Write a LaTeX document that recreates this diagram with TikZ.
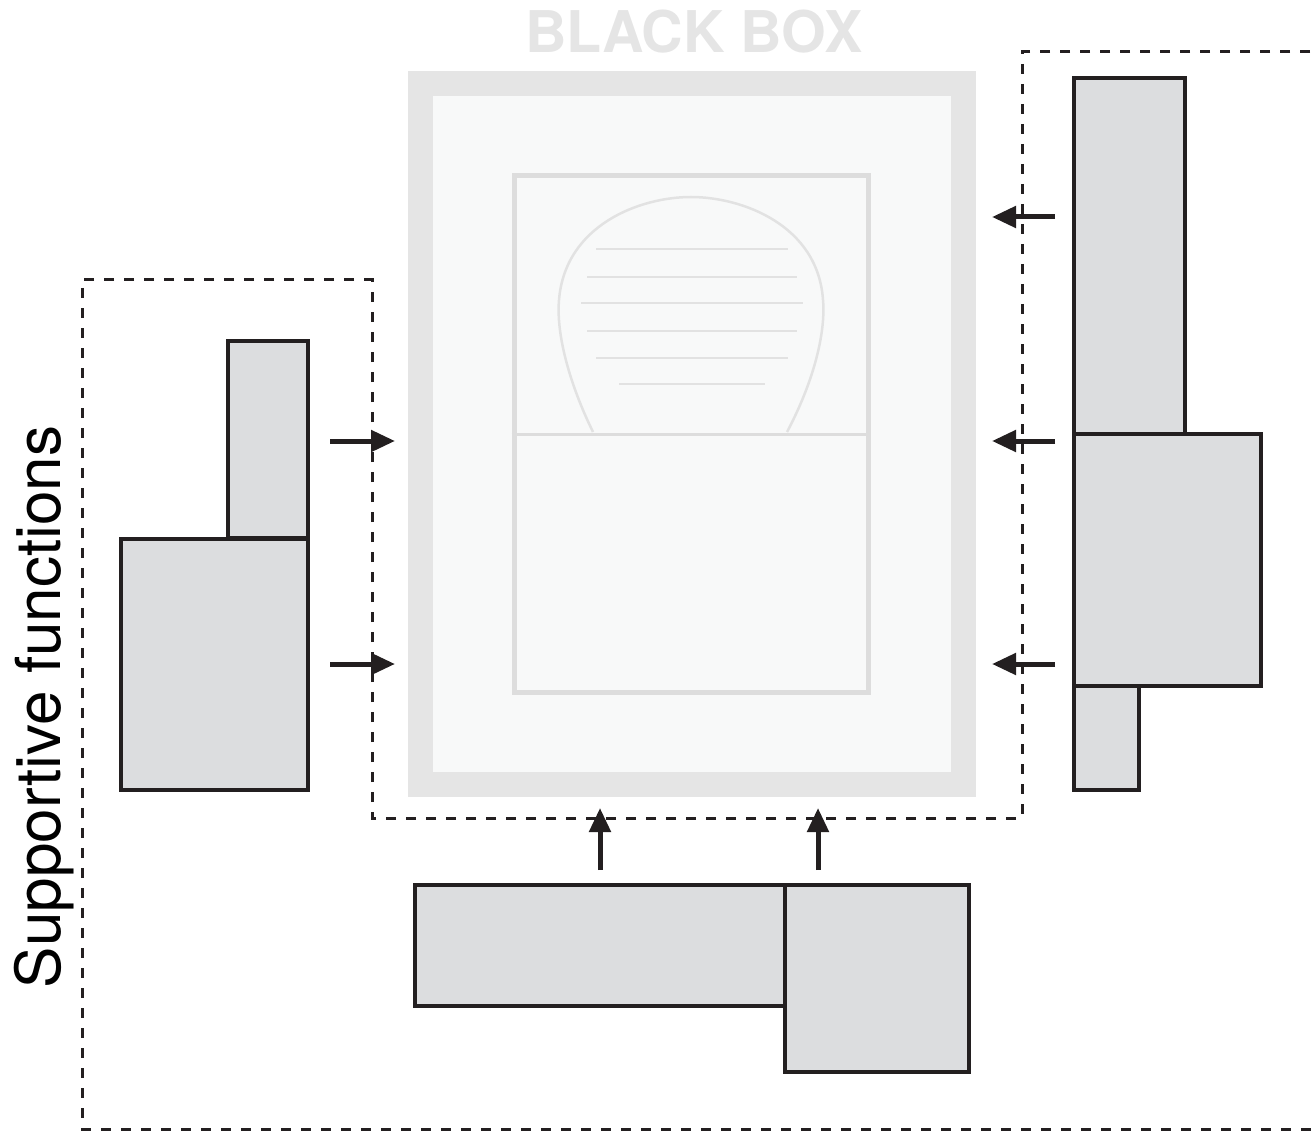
\documentclass[tikz,border=0pt]{standalone}
\usepackage{fontspec}
\setmainfont{TeX Gyre Heros}
\usetikzlibrary{positioning,arrows.meta}

\definecolor{ink}{HTML}{231F20}
\definecolor{blockFill}{HTML}{DCDDDF}
\definecolor{frameGray}{HTML}{E5E5E5}
\definecolor{paperWhite}{HTML}{F8F9F9}
\definecolor{panelGray}{HTML}{DDDDDD}
\definecolor{sketchGray}{HTML}{E2E2E2}

\begin{document}
\begin{tikzpicture}[x=1pt, y=-1pt,
        block/.style={
            rectangle, draw = ink, fill = blockFill, line width = 4pt, inner sep = 0pt
        },
        feed/.style={
            draw = ink, line width = 5pt, -{Triangle[length=24pt,width=21pt]}
        },
        boundary/.style={
            draw = ink, line width = 3pt, dash pattern = on 10pt off 10pt
        },
        faint/.style={
            draw = sketchGray, line width = 2.5pt
        },
    ]
    \useasboundingbox (0,0) rectangle (1316,1131);

    \node (blackBox) [rectangle, draw = frameGray, fill = paperWhite, line width = 25pt, inner sep = 0pt, minimum width = 543pt, minimum height = 701pt] at (692,434) {};
    \node (title) [anchor = base, text = frameGray, font = \fontsize{57.5}{60}\selectfont\bfseries] at (694,53) {BLACK BOX};

    \node (panel) [rectangle, draw = panelGray, line width = 5pt, inner sep = 0pt, minimum width = 354pt, minimum height = 516pt] at (691,434) {};
    \draw [draw = panelGray, line width = 3pt] (panel.west) -- (panel.east);

    \draw [faint] (593,432) .. controls (570,385) and (556,335) .. (559,300)
        .. controls (565,225) and (640,197) .. (691,197)
        .. controls (742,197) and (818,225) .. (823,300)
        .. controls (826,335) and (812,385) .. (787,432);
    \foreach \y/\a/\b in {249/596/788, 277/587/797, 303/581/803, 331/587/797, 358/596/788, 384/619/765}
        \draw [faint] (\a,\y) -- (\b,\y);

    \draw [boundary] (1330,52) -- (1022,52) -- (1022,818) -- (372,818) -- (372,280) -- (82,280) -- (82,1129) -- (1330,1129);

    \node (leftTall) [block, minimum width = 80pt, minimum height = 197pt] at (268,439.5) {};
    \node (leftBig) [block, minimum width = 187pt, minimum height = 251pt] at (214.5,664.5) {};

    \node (rightTall) [block, minimum width = 111pt, minimum height = 356pt] at (1129.5,256) {};
    \node (rightLow) [block, minimum width = 65pt, minimum height = 104pt] at (1106.5,738) {};
    \node (rightMid) [block, minimum width = 187pt, minimum height = 252pt] at (1167.5,560) {};

    \node (bottomWide) [block, minimum width = 370pt, minimum height = 121pt] at (600,945.5) {};
    \node (bottomSquare) [block, minimum width = 184pt, minimum height = 187pt] at (877,978.5) {};

    \node (sideLabel) [anchor = base, rotate = 90, font = \fontsize{62}{70}\selectfont] at (60,707) {Supportive functions};

    \coordinate (inLeftA) at (330,441);
    \coordinate (inLeftB) at (330,664);
    \coordinate (tipLeftA) at (395,441);
    \coordinate (tipLeftB) at (395,664);
    \draw [feed] (inLeftA) -- (tipLeftA);
    \draw [feed] (inLeftB) -- (tipLeftB);

    \coordinate (inRightA) at (1055,217);
    \coordinate (inRightB) at (1055,441);
    \coordinate (inRightC) at (1055,664);
    \coordinate (tipRightA) at (992,217);
    \coordinate (tipRightB) at (992,441);
    \coordinate (tipRightC) at (992,664);
    \draw [feed] (inRightA) -- (tipRightA);
    \draw [feed] (inRightB) -- (tipRightB);
    \draw [feed] (inRightC) -- (tipRightC);

    \coordinate (inBottomA) at (600,870);
    \coordinate (inBottomB) at (818,870);
    \coordinate (tipBottomA) at (600,808);
    \coordinate (tipBottomB) at (818,808);
    \draw [feed] (inBottomA) -- (tipBottomA);
    \draw [feed] (inBottomB) -- (tipBottomB);

\end{tikzpicture}
\end{document}
